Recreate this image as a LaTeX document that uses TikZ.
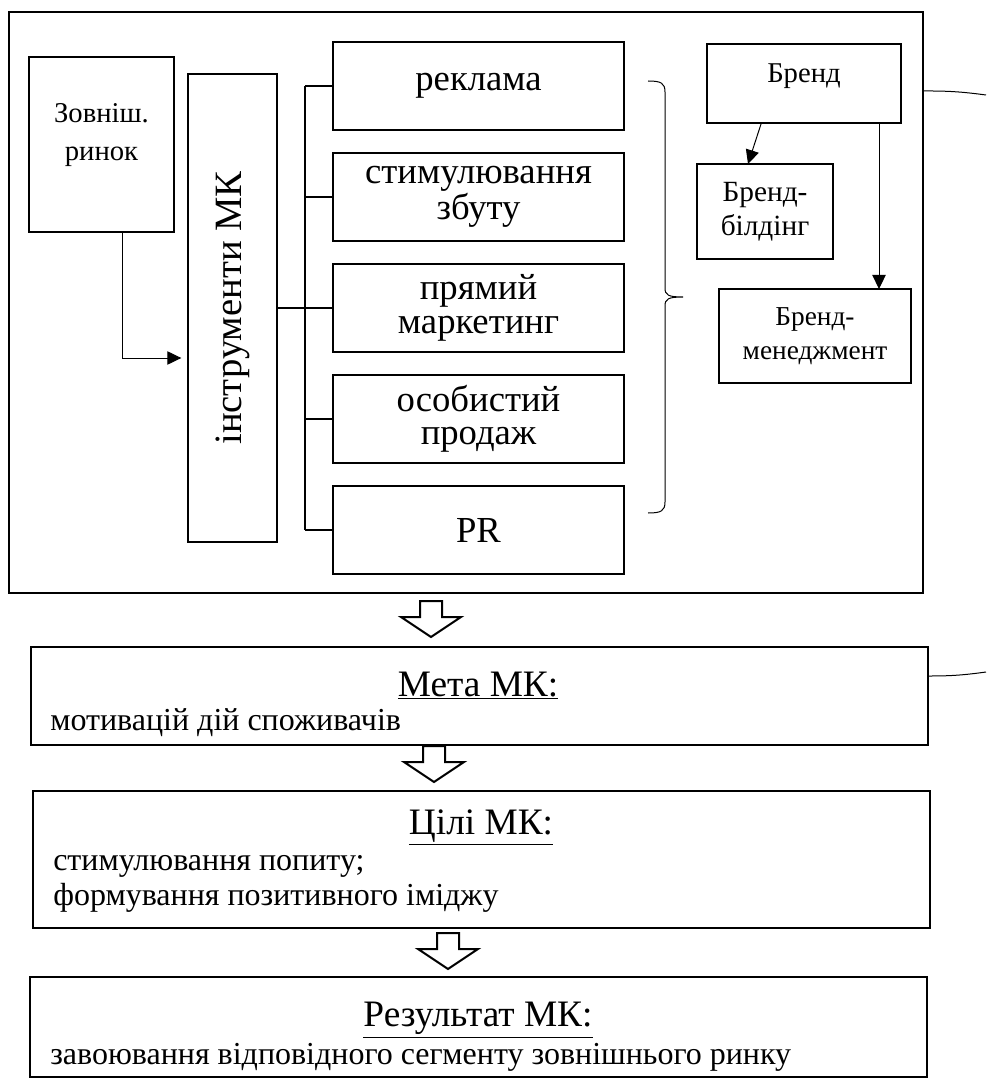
\documentclass[tikz,border=0pt]{standalone}
\usepackage{fontspec}
\setmainfont{Liberation Serif}
\usetikzlibrary{arrows.meta,positioning}

\begin{document}
\begin{tikzpicture}[x=0.75pt,y=-0.75pt,>={Triangle[length=10.5pt,width=10pt]},
    node distance=17.25pt,
    box/.style={draw,line width=1.5pt,inner sep=0pt,outer sep=0pt},
    tool/.style={box,minimum width=218.25pt,minimum height=66pt,align=center,
      font=\fontsize{27.5}{25}\selectfont},
    brand/.style={box,align=center,font=\fontsize{22}{25.5}\selectfont},
    wide/.style={box,minimum width=672.75pt},
    title/.style={inner sep=0pt,font=\fontsize{28}{30}\selectfont},
    body/.style={anchor=west,align=left,inner sep=0pt,font=\fontsize{24}{26}\selectfont},
    link/.style={line width=0.75pt},
    bus/.style={line width=1.5pt},
    hollow/.style={draw,line width=1.5pt,fill=white,line join=miter}]

  \useasboundingbox (0,0) rectangle (986,1080);

  % upper block
  \node[box,minimum width=685.5pt,minimum height=435.75pt] (frame) at (466,302.5) {};
  \node[box,minimum width=108.75pt,minimum height=131.25pt] (zovn) at (101.5,144.5) {};
  \node[align=center,font=\fontsize{21.5}{29}\selectfont] (zovnt) at (101.5,135) {Зовніш.\\ринок};
  \node[box,minimum width=66.75pt,minimum height=351pt] (instr) at (232.5,308) {};
  \node[rotate=90,font=\fontsize{29}{30}\selectfont] (instrt) at (instr) {інструменти МК};

  % tools
  \node[tool] (rek) at (478.5,86) {реклама};
  \node[tool,below=of rek] (stim) {стимулювання\\збуту};
  \node[tool,below=of stim] (pryam) {прямий\\маркетинг};
  \node[tool,below=of pryam] (osob) {особистий\\продаж};
  \node[tool,below=of osob] (pr) {PR};

  \coordinate (bus) at (305,308);
  \draw[bus] (instr.east) -- (bus);
  \draw[bus] (bus |- rek.west) -- (bus |- pr.west);
  \foreach \t in {rek,stim,pryam,osob,pr}
    \draw[bus] (bus |- \t.west) -- (\t.west);

  \coordinate (zx) at (122,358);
  \draw[link,->,shorten >=5pt] (zovn.south -| zx) |- (instr.west |- zx);

  % brace
  \coordinate (btip) at (683,297);
  \draw[link] (648,81) .. controls (661,81) and (665,83) .. (665,92) -- (665,288)
    .. controls (665,295) and (668,297) .. (btip)
    .. controls (668,297) and (665,299) .. (665,306) -- (665,502)
    .. controls (665,511) and (661,513) .. (648,513);

  % brand
  \node[brand,minimum width=145.5pt,minimum height=59.25pt] (brend) at (804,83.5) {};
  \node[font=\fontsize{21.5}{22}\selectfont] (brendt) at (804,76) {Бренд};
  \node[brand,minimum width=102pt,minimum height=71.25pt] (bild) at (765,211.5) {Бренд-\\білдінг};
  \node[brand,minimum width=144pt,minimum height=70.5pt,
    font=\fontsize{20.5}{25.5}\selectfont] (menedzh) at (815,336) {Бренд-\\менеджмент};
  \draw[link,->] ([xshift=-32pt]brend.south) -- ([xshift=-12.75pt]bild.north);
  \coordinate (bm) at (879,0);
  \draw[link,->] (brend.south -| bm) -- (menedzh.north -| bm);

  \coordinate (out1) at (986,95);
  \draw[link] (frame.east |- 0,91) to[bend left=4] (out1);

  % lower blocks
  \node[wide,minimum height=73.5pt] (meta) at (479,696) {};
  \node[title] (metat) at (478,685.5) {\underline{Мета МК:}};
  \node[body] (metab) at (50,723) {мотивацій дій споживачів};

  \node[wide,minimum height=102.75pt] (tsili) at (481.5,859.5) {};
  \node[title] (tsilit) at (481,827.5) {\underline{Цілі МК:}};
  \node[body] (tsilib) at (53,884) {стимулювання попиту;\\формування позитивного іміджу};

  \node[wide,minimum height=75pt] (result) at (478,1027) {};
  \node[title] (resultt) at (478,1020) {\underline{Результат МК:}};
  \node[body] (resultb) at (50,1057) {завоювання відповідного сегменту зовнішнього ринку};

  \coordinate (out2) at (986,672);
  \draw[link] (meta.east |- 0,676) to[bend right=4] (out2);

  \foreach \a/\ax/\dy in {frame/431/8,meta/434/1,tsili/448/5}
    \draw[hollow] (\ax,0 |- \a.south) ++(-11,\dy) -- ++(22,0) -- ++(0,16)
      -- ++(19,0) -- ++(-30,20) -- ++(-30,-20) -- ++(19,0) -- cycle;
\end{tikzpicture}
\end{document}
